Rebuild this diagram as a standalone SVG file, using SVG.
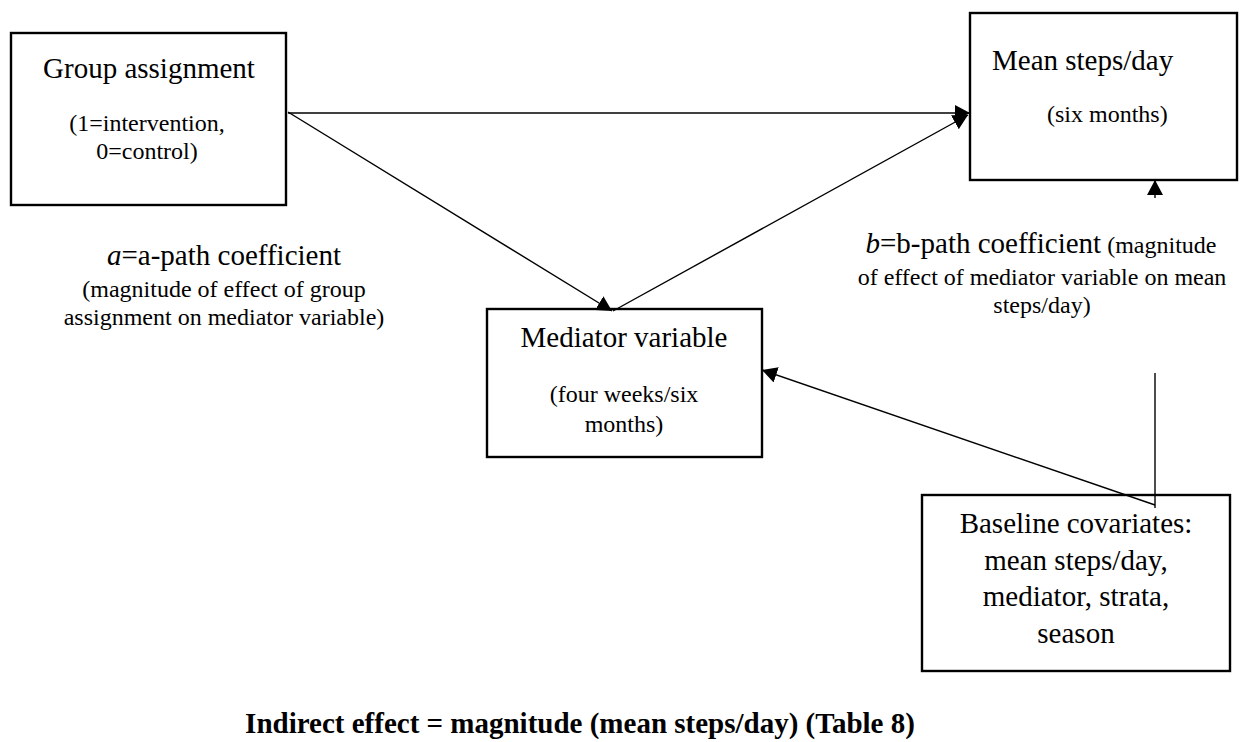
<svg xmlns="http://www.w3.org/2000/svg" width="1244" height="742" viewBox="0 0 1244 742">
<style>
.box{fill:#fff;stroke:#000;stroke-width:2.4}
.ln{stroke:#000;stroke-width:1.4;fill:none}
.t{font-family:"Liberation Serif","Times New Roman",serif;fill:#000}
.big{font-size:29px}
.sm{font-size:24px}
.c{text-anchor:middle}
</style>
<defs>
<marker id="ah" markerUnits="userSpaceOnUse" markerWidth="16" markerHeight="16" refX="15" refY="8" orient="auto">
<path d="M0,0 L15,8 L0,16 z" fill="#000"/>
</marker>
</defs>
<rect width="1244" height="742" fill="#fff"/>
<g id="group-assignment">
<rect class="box" x="11" y="33" width="275" height="172"/>
<text class="t big c" x="149" y="78">Group assignment</text>
<text class="t sm c" x="147" y="131">(1=intervention,</text>
<text class="t sm c" x="147" y="159">0=control)</text>
</g>
<g id="mean-steps">
<rect class="box" x="970" y="13" width="267" height="167"/>
<text class="t big" x="992" y="70">Mean steps/day</text>
<text class="t sm" x="1047" y="122">(six months)</text>
</g>
<g id="mediator">
<rect class="box" x="487" y="309" width="275" height="148"/>
<text class="t big c" x="624" y="347">Mediator variable</text>
<text class="t sm c" x="624" y="402">(four weeks/six</text>
<text class="t sm c" x="624" y="432">months)</text>
</g>
<g id="baseline">
<rect class="box" x="922" y="495" width="308" height="176"/>
<text class="t big c" x="1076" y="533">Baseline covariates:</text>
<text class="t big c" x="1076" y="569.5">mean steps/day,</text>
<text class="t big c" x="1076" y="606">mediator, strata,</text>
<text class="t big c" x="1076" y="642.5">season</text>
</g>
<g id="connectors">
<line class="ln" x1="288" y1="113" x2="970" y2="113" marker-end="url(#ah)"/>
<line class="ln" x1="288" y1="112" x2="612" y2="311" marker-end="url(#ah)"/>
<line class="ln" x1="613" y1="311" x2="968" y2="115" marker-end="url(#ah)"/>
<line class="ln" x1="1155" y1="505" x2="762" y2="370" marker-end="url(#ah)"/>
<line class="ln" x1="1155" y1="198" x2="1155" y2="180" marker-end="url(#ah)"/>
<line class="ln" x1="1155" y1="373" x2="1155" y2="508"/>
</g>
<g id="labels">
<text class="t big c" x="224" y="265"><tspan font-style="italic">a</tspan>=a-path coefficient</text>
<text class="t sm c" x="224" y="297">(magnitude of effect of group</text>
<text class="t sm c" x="224" y="325">assignment on mediator variable)</text>
<text class="t c" x="1041" y="253"><tspan class="big" font-style="italic">b</tspan><tspan class="big">=b-path coefficient</tspan><tspan class="sm"> (magnitude</tspan></text>
<text class="t sm c" x="1042" y="285">of effect of mediator variable on mean</text>
<text class="t sm c" x="1042" y="313">steps/day)</text>
<text class="t big c" x="580" y="733" font-weight="bold">Indirect effect = magnitude (mean steps/day) (Table 8)</text>
</g>
</svg>
